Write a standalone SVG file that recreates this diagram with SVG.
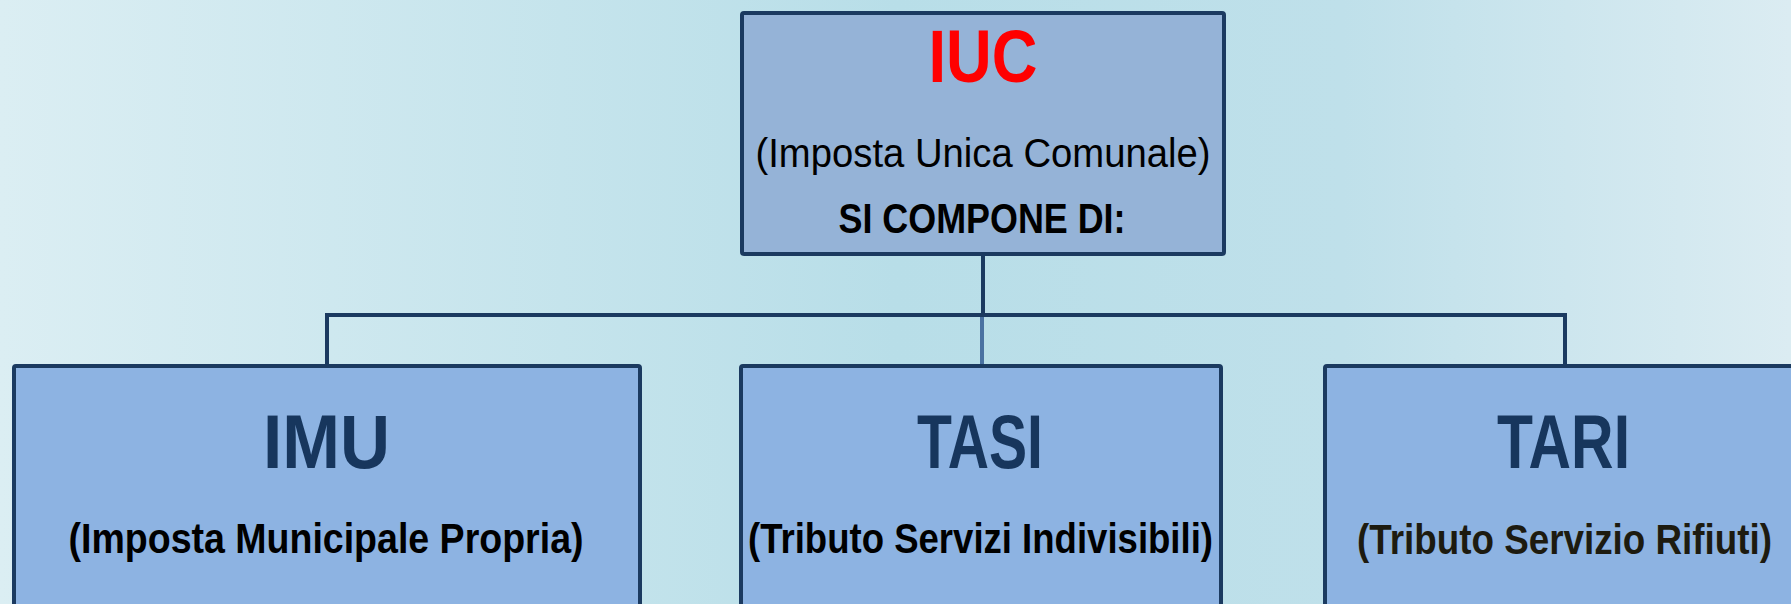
<svg xmlns="http://www.w3.org/2000/svg" width="1791" height="604" viewBox="0 0 1791 604">
<defs>
<linearGradient id="bg" x1="0" y1="0" x2="1" y2="0">
<stop offset="0" stop-color="#dbeef3"/>
<stop offset="0.5" stop-color="#b8dee8"/>
<stop offset="0.75" stop-color="#bfe0ea"/>
<stop offset="1" stop-color="#dbecf2"/>
</linearGradient>
<style>
.box{stroke:#1b3a60;stroke-width:4;}
.top{fill:#95b3d7;}
.sub{fill:#8db3e2;}
.conn{stroke:#1b3a60;stroke-width:4;fill:none;}
.t{font-family:"Liberation Sans",Arial,sans-serif;text-anchor:middle;}
.big{font-size:76px;font-weight:bold;fill:#17365d;}
.desc{font-size:42px;font-weight:bold;fill:#000;}
</style>
</defs>
<rect x="0" y="0" width="1791" height="604" fill="url(#bg)"/>
<g id="connectors">
<line class="conn" x1="983" y1="254" x2="983" y2="315"/>
<polyline class="conn" points="327,366 327,315 1565,315 1565,366"/>
<line x1="982" y1="317" x2="982" y2="366" stroke="#4a72a2" stroke-width="4"/>
</g>
<g id="iuc">
<rect class="box top" x="742" y="13" width="482" height="241" rx="2"/>
<text class="t" x="983" y="82" font-size="75" font-weight="bold" fill="#ff0000" textLength="109" lengthAdjust="spacingAndGlyphs">IUC</text>
<text class="t" x="983" y="167" font-size="40" fill="#000" textLength="455" lengthAdjust="spacingAndGlyphs">(Imposta Unica Comunale)</text>
<text class="t" x="982" y="233" font-size="42" font-weight="bold" fill="#000" textLength="287" lengthAdjust="spacingAndGlyphs">SI COMPONE DI:</text>
</g>
<g id="imu">
<rect class="box sub" x="14" y="366" width="626" height="260" rx="2"/>
<text class="t big" x="326.5" y="468" textLength="127" lengthAdjust="spacingAndGlyphs">IMU</text>
<text class="t desc" x="326" y="553" textLength="515" lengthAdjust="spacingAndGlyphs">(Imposta Municipale Propria)</text>
</g>
<g id="tasi">
<rect class="box sub" x="741" y="366" width="480" height="260" rx="2"/>
<text class="t big" x="980" y="468" textLength="126" lengthAdjust="spacingAndGlyphs">TASI</text>
<text class="t desc" x="980.5" y="553" textLength="465" lengthAdjust="spacingAndGlyphs">(Tributo Servizi Indivisibili)</text>
</g>
<g id="tari">
<rect class="box sub" x="1325" y="366" width="500" height="260" rx="2"/>
<text class="t big" x="1563.5" y="468" textLength="133" lengthAdjust="spacingAndGlyphs">TARI</text>
<text class="t desc" x="1564.5" y="554" fill="#1d1b10" style="fill:#1d1b10" textLength="415" lengthAdjust="spacingAndGlyphs">(Tributo Servizio Rifiuti)</text>
</g>
</svg>
